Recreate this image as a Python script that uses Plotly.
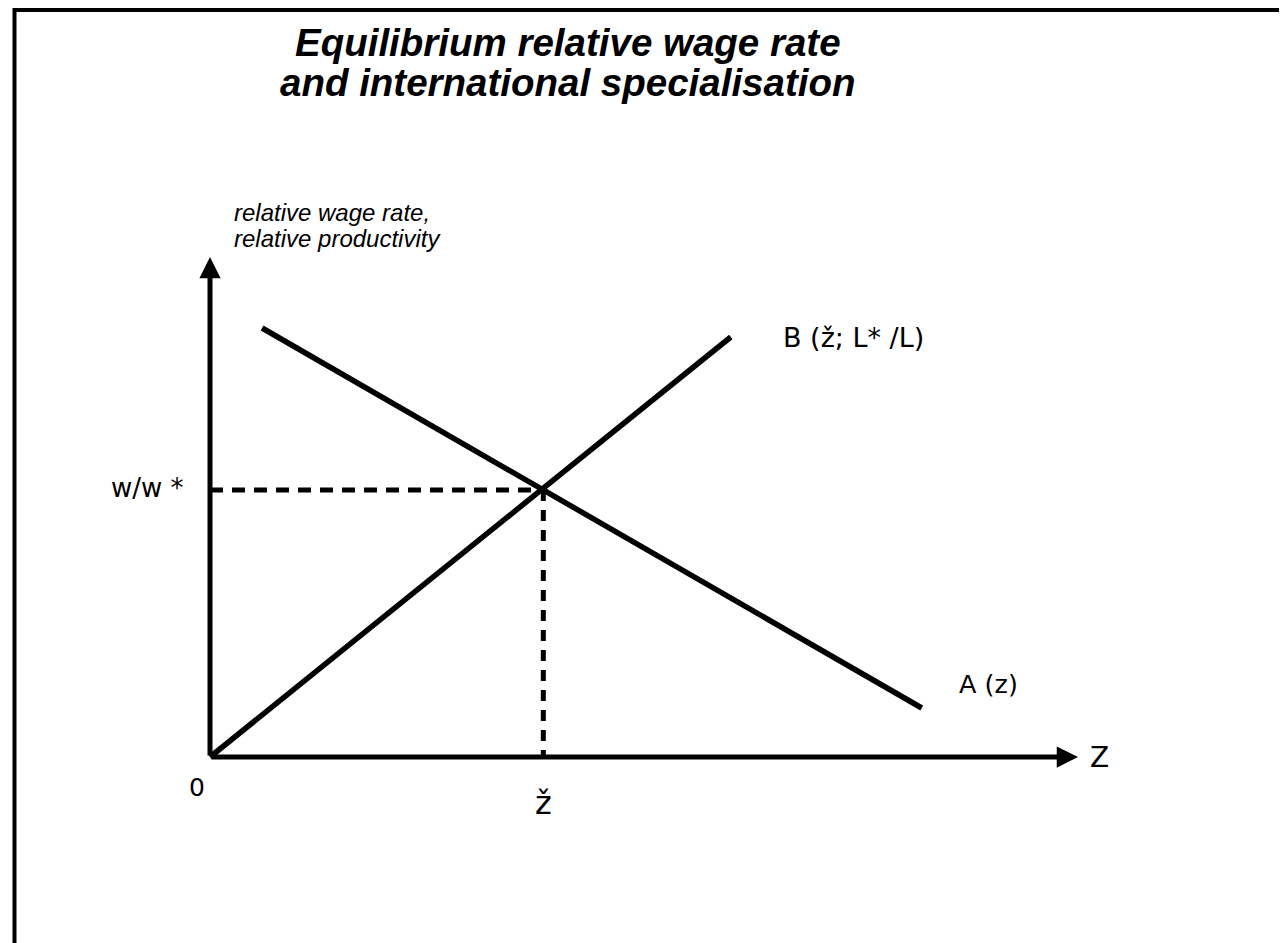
import plotly.graph_objects as go

# curves of the diagram (z on the horizontal axis, relative wage on the vertical)
a_z = [0.6, 8.2]
a_w = [8.58, 0.98]
b_z = [0.0, 6.0]
b_w = [0.0, 8.4]
z_eq = 3.84
w_eq = 5.34
axis_end = [10.0, 10.0]   # arrow tips for z-axis and wage axis

title_lines = ["Equilibrium relative wage rate", "and international specialisation"]
y_label = ["relative wage rate,", "relative productivity"]

fig = go.Figure()

# A (z) and B curves
fig.add_trace(go.Scatter(x=a_z, y=a_w, mode="lines", line=dict(color="black", width=5.5), hoverinfo="skip"))
fig.add_trace(go.Scatter(x=b_z, y=b_w, mode="lines", line=dict(color="black", width=5.5), hoverinfo="skip"))

# dashed guides to the equilibrium point
fig.add_trace(go.Scatter(x=[0, z_eq], y=[w_eq, w_eq], mode="lines",
                         line=dict(color="black", width=5, dash="13px,9px"), hoverinfo="skip"))
fig.add_trace(go.Scatter(x=[z_eq, z_eq], y=[w_eq, 0], mode="lines",
                         line=dict(color="black", width=5, dash="11px,9px"), hoverinfo="skip"))

# axes with arrow heads
fig.add_annotation(x=axis_end[0], y=0, ax=0, ay=0, xref="x", yref="y", axref="x", ayref="y",
                   showarrow=True, arrowhead=2, arrowsize=0.85, arrowwidth=5, arrowcolor="black", text="")
fig.add_annotation(x=0, y=axis_end[1], ax=0, ay=0, xref="x", yref="y", axref="x", ayref="y",
                   showarrow=True, arrowhead=2, arrowsize=0.85, arrowwidth=5, arrowcolor="black", text="")

lab = dict(family="DejaVu Sans, sans-serif", color="black")

def put(x, y, text, size, **kw):
    fig.add_annotation(x=x, y=y, xref="x", yref="y", text=text, showarrow=False,
                       font=dict(size=size, **lab), **kw)

put(-0.72, w_eq + 0.04, "w/w *", 26)
put(-0.15, -0.6, "0", 25)
put(axis_end[0] + 0.25, 0.0, "Z", 28)
put(z_eq, -0.92, "ž", 32)
put(8.97, 1.46, "A (z)", 25.5)
put(7.41, 8.4, "B (ž; L* /L)", 27)

# wage axis caption, two lines
for i, line in enumerate(y_label):
    fig.add_annotation(x=0.25, y=10.9 - 0.52 * i, xref="x", yref="y", text="<i>" + line + "</i>",
                       showarrow=False, xanchor="left",
                       font=dict(size=24, family="Liberation Sans, Arial, sans-serif", color="black"))

# title, two lines
for i, line in enumerate(title_lines):
    fig.add_annotation(x=560 / 1287, y=1 - (34 + 40 * i) / 943, xref="paper", yref="paper",
                       text="<b><i>" + line + "</i></b>", showarrow=False, yanchor="middle",
                       font=dict(size=38.5, family="Liberation Sans, Arial, sans-serif", color="black"))

# page frame
fig.add_shape(type="rect", xref="paper", yref="paper", x0=6.5 / 1287, x1=1.02, y0=-0.02, y1=1 - 2 / 943,
              line=dict(color="black", width=4))

px_x = 86.8
px_y = 50.0
fig.update_layout(
    width=1287, height=943,
    margin=dict(l=0, r=0, t=0, b=0),
    paper_bgcolor="white", plot_bgcolor="white",
    showlegend=False,
    xaxis=dict(range=[-202 / px_x, (1287 - 202) / px_x], visible=False, fixedrange=True),
    yaxis=dict(range=[-(943 - 749) / px_y, 749 / px_y], visible=False, fixedrange=True),
)

fig.write_html("out.html")
